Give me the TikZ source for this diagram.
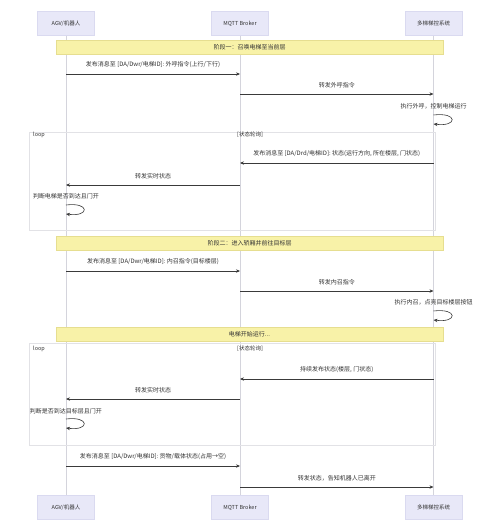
\documentclass[tikz,border=0pt]{standalone}
\usepackage{fontspec}
\setmainfont{Noto Sans CJK SC}
\usetikzlibrary{arrows.meta}
\definecolor{actorfill}{HTML}{E8E8F8}
\definecolor{actorline}{HTML}{DADAF0}
\definecolor{notefill}{HTML}{F8F2A8}
\definecolor{noteline}{HTML}{E6DE90}
\definecolor{lifec}{HTML}{D4D4DC}
\definecolor{loopc}{HTML}{E2E2E6}
\definecolor{msgc}{HTML}{3A3A3A}
\definecolor{txtc}{HTML}{333333}
\tikzset{
  actor/.style={draw=actorline, fill=actorfill, minimum width=57pt, minimum height=24pt, inner sep=0pt, font=\fontsize{5.5}{6}\selectfont, text=txtc},
  lifeline/.style={draw=lifec, line width=0.8pt},
  notebox/.style={draw=noteline, fill=notefill, minimum width=387pt, minimum height=14pt, inner sep=0pt, font=\fontsize{6}{7}\selectfont, text=txtc},
  loopframe/.style={draw=loopc, line width=0.6pt},
  looplbl/.style={font=\fontsize{5.5}{6}\selectfont, text=txtc, inner sep=0pt},
  msg/.style={draw=msgc, line width=0.6pt, -{Stealth[length=4pt,width=3.4pt]}},
  lbl/.style={font=\fontsize{6}{7}\selectfont, text=txtc, inner sep=0pt}
}
\begin{document}
\begin{tikzpicture}[x=1pt,y=-1pt]
\useasboundingbox[fill=white] (0,0) rectangle (500,531);
% actors
\node[actor] (a1t) at (66,23.5) {AGV/机器人};
\node[actor] (a2t) at (240,23.5) {MQTT Broker};
\node[actor] (a3t) at (433.5,23.5) {多梯梯控系统};
\node[actor] (a1b) at (66,507.5) {AGV/机器人};
\node[actor] (a2b) at (240,507.5) {MQTT Broker};
\node[actor] (a3b) at (433.5,507.5) {多梯梯控系统};
\draw[lifeline] (a1t) -- (a1b);
\draw[lifeline] (a2t) -- (a2b);
\draw[lifeline] (a3t) -- (a3b);
% loop frames
\draw[loopframe] (29,132) rectangle (435,230);
\node[looplbl, anchor=west] (lp1) at (33,135) {loop};
\node[looplbl] (lc1) at (250,135) {[状态轮询]};
\draw[loopframe] (29,343) rectangle (435,445);
\node[looplbl, anchor=west] (lp2) at (33,349) {loop};
\node[looplbl] (lc2) at (250,349) {[状态轮询]};
% notes
\node[notebox] (n1) at (249.5,47) {阶段一：召唤电梯至当前层};
\node[notebox] (n2) at (249.5,243) {阶段二：进入轿厢并前往目标层};
\node[notebox] (n3) at (249.5,334) {电梯开始运行...};
% coordinates on lifelines
\foreach \y/\n in {74/1,94/2,163/3,185/4,271/5,291/6,379/7,399/8,466/9,487/10}{
  \coordinate (p\n) at (66,\y);
  \coordinate (q\n) at (240,\y);
  \coordinate (r\n) at (433.5,\y);
}
% messages
\draw[msg] (p1) -- (q1) node[lbl, midway, above=6pt] {发布消息至 [DA/Dwr/电梯ID]: 外呼指令(上行/下行)};
\draw[msg] (q2) -- (r2) node[lbl, midway, above=6pt] {转发外呼指令};
\node[lbl] (s1) at (433.5,106) {执行外呼，控制电梯运行};
\coordinate (s1a) at (433.5,115);
\coordinate (s1b) at (433.5,124);
\draw[msg] (s1a) .. controls (458,112) and (458,127) .. (s1b);
\draw[msg] (r3) -- (q3) node[lbl, midway, above=6pt] {发布消息至 [DA/Drd/电梯ID]: 状态(运行方向, 所在楼层, 门状态)};
\draw[msg] (q4) -- (p4) node[lbl, midway, above=6pt] {转发实时状态};
\node[lbl] (s2) at (66,196) {判断电梯是否到达且门开};
\coordinate (s2a) at (66,205);
\coordinate (s2b) at (66,214);
\draw[msg] (s2a) .. controls (90,202) and (90,217) .. (s2b);
\draw[msg] (p5) -- (q5) node[lbl, midway, above=6pt] {发布消息至 [DA/Dwr/电梯ID]: 内召指令(目标楼层)};
\draw[msg] (q6) -- (r6) node[lbl, midway, above=6pt] {转发内召指令};
\node[lbl] (s3) at (433.5,302) {执行内召，点亮目标楼层按钮};
\coordinate (s3a) at (433.5,311);
\coordinate (s3b) at (433.5,320);
\draw[msg] (s3a) .. controls (458,308) and (458,323) .. (s3b);
\draw[msg] (r7) -- (q7) node[lbl, midway, above=6pt] {持续发布状态(楼层, 门状态)};
\draw[msg] (q8) -- (p8) node[lbl, midway, above=6pt] {转发实时状态};
\node[lbl] (s4) at (66,411) {判断是否到达目标层且门开};
\coordinate (s4a) at (66,419);
\coordinate (s4b) at (66,428);
\draw[msg] (s4a) .. controls (90,416) and (90,431) .. (s4b);
\draw[msg] (p9) -- (q9) node[lbl, midway, above=6pt] {发布消息至 [DA/Dwr/电梯ID]: 货物/载体状态(占用→空)};
\draw[msg] (q10) -- (r10) node[lbl, midway, above=6pt] {转发状态，告知机器人已离开};
\end{tikzpicture}
\end{document}
